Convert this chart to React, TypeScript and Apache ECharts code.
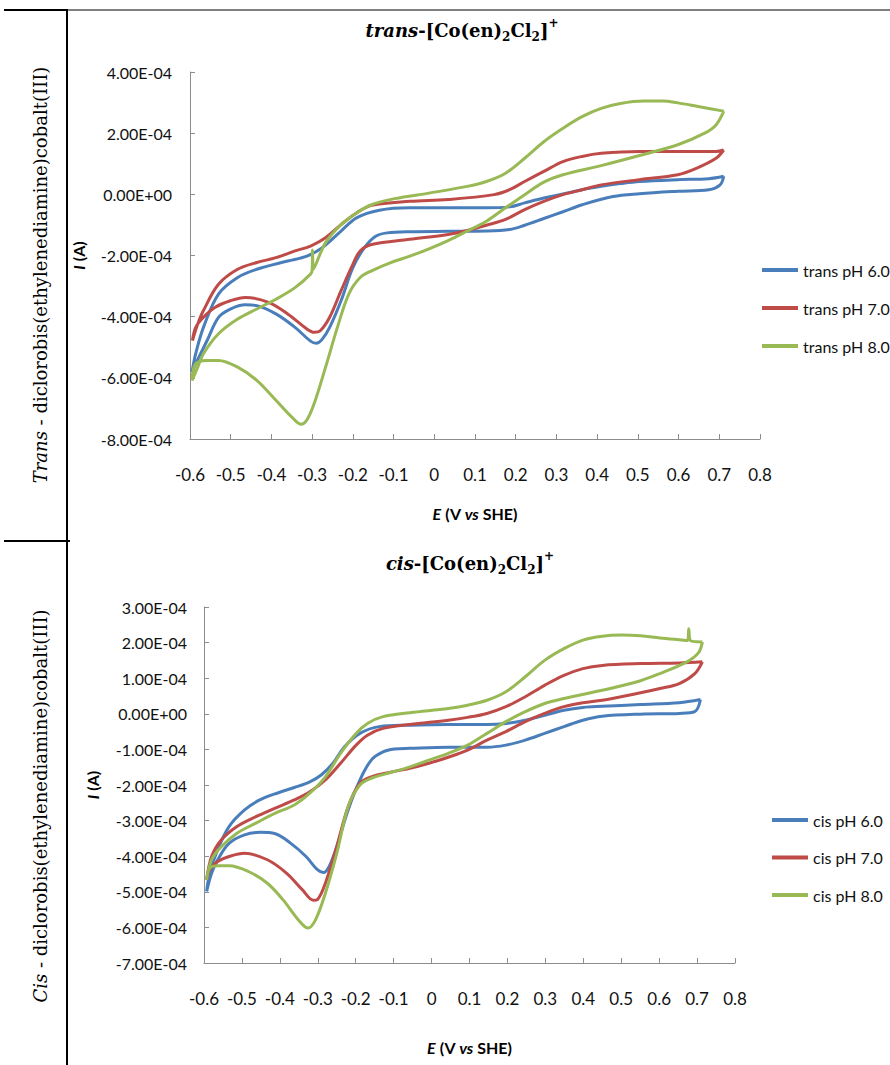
import React, { useEffect, useRef } from 'react';
import * as echarts from 'echarts';

// ---- Axis ranges / tick labels ----
const potentialMin = -0.6;
const potentialMax = 0.8;
const potentialStep = 0.1;
const transCurrentMin = -8e-4;
const transCurrentMax = 4e-4;
const transCurrentStep = 2e-4;
const cisCurrentMin = -7e-4;
const cisCurrentMax = 3e-4;
const cisCurrentStep = 1e-4;

// ---- Legends ----
const transNames = ['trans pH 6.0', 'trans pH 7.0', 'trans pH 8.0'];
const cisNames = ['cis pH 6.0', 'cis pH 7.0', 'cis pH 8.0'];
const seriesColors = ['#4A7EBB', '#BE4B48', '#98B954'];

// ---- Data: [E (V vs SHE), I (A)] around each voltammogram loop ----
const transPH6: number[][] = [
  [0.711, 0.59e-4], [0.702, 0.31e-4], [0.674, 0.15e-4], [0.598, 0.10e-4], [0.504, 0.02e-4], [0.439, -0.07e-4],
  [0.363, -0.34e-4], [0.316, -0.57e-4], [0.269, -0.79e-4], [0.222, -1.01e-4], [0.185, -1.15e-4], [0.128, -1.20e-4],
  [0.034, -1.21e-4], [-0.060, -1.22e-4], [-0.116, -1.26e-4], [-0.144, -1.37e-4], [-0.172, -1.75e-4], [-0.200, -2.40e-4],
  [-0.229, -3.48e-4], [-0.257, -4.35e-4], [-0.276, -4.75e-4], [-0.290, -4.87e-4], [-0.304, -4.80e-4], [-0.342, -4.35e-4],
  [-0.389, -3.91e-4], [-0.436, -3.64e-4], [-0.464, -3.61e-4], [-0.501, -3.75e-4], [-0.530, -4.02e-4], [-0.558, -4.78e-4],
  [-0.586, -5.54e-4], [-0.595, -5.81e-4],
  [-0.586, -5.21e-4], [-0.567, -4.35e-4], [-0.530, -3.26e-4], [-0.483, -2.72e-4], [-0.436, -2.45e-4], [-0.360, -2.18e-4],
  [-0.313, -2.02e-4], [-0.276, -1.75e-4], [-0.229, -1.20e-4], [-0.191, -0.77e-4], [-0.135, -0.52e-4], [-0.060, -0.44e-4],
  [0.034, -0.44e-4], [0.128, -0.44e-4], [0.185, -0.41e-4], [0.222, -0.28e-4], [0.269, -0.12e-4], [0.316, 0.01e-4],
  [0.363, 0.15e-4], [0.410, 0.26e-4], [0.457, 0.35e-4], [0.504, 0.42e-4], [0.598, 0.48e-4], [0.674, 0.51e-4], [0.711, 0.59e-4],
];

const transPH7: number[][] = [
  [0.711, 1.45e-4], [0.692, 1.18e-4], [0.645, 0.86e-4], [0.598, 0.64e-4], [0.504, 0.48e-4], [0.410, 0.31e-4],
  [0.363, 0.15e-4], [0.316, -0.01e-4], [0.269, -0.23e-4], [0.222, -0.50e-4], [0.175, -0.82e-4], [0.128, -1.01e-4],
  [0.081, -1.18e-4], [0.034, -1.31e-4], [-0.060, -1.47e-4], [-0.154, -1.64e-4], [-0.182, -1.85e-4], [-0.200, -2.29e-4],
  [-0.229, -3.15e-4], [-0.257, -4.02e-4], [-0.280, -4.46e-4], [-0.295, -4.51e-4], [-0.313, -4.40e-4], [-0.360, -3.91e-4],
  [-0.407, -3.53e-4], [-0.464, -3.37e-4], [-0.501, -3.48e-4], [-0.539, -3.70e-4], [-0.567, -4.02e-4], [-0.586, -4.35e-4],
  [-0.594, -4.78e-4],
  [-0.581, -4.24e-4], [-0.567, -3.80e-4], [-0.530, -2.94e-4], [-0.483, -2.45e-4], [-0.436, -2.23e-4], [-0.389, -2.07e-4],
  [-0.342, -1.85e-4], [-0.304, -1.69e-4], [-0.267, -1.42e-4], [-0.229, -0.99e-4], [-0.191, -0.61e-4], [-0.154, -0.36e-4],
  [-0.060, -0.23e-4], [0.034, -0.17e-4], [0.147, -0.01e-4], [0.185, 0.15e-4], [0.222, 0.42e-4], [0.269, 0.75e-4],
  [0.316, 1.07e-4], [0.363, 1.24e-4], [0.410, 1.34e-4], [0.504, 1.40e-4], [0.598, 1.40e-4], [0.692, 1.40e-4], [0.711, 1.45e-4],
];

const transPH8: number[][] = [
  [0.711, 2.72e-4], [0.692, 2.27e-4], [0.664, 2.00e-4], [0.598, 1.62e-4], [0.504, 1.27e-4], [0.410, 0.94e-4],
  [0.316, 0.64e-4], [0.269, 0.40e-4], [0.222, -0.01e-4], [0.175, -0.44e-4], [0.128, -0.88e-4], [0.081, -1.20e-4],
  [0.034, -1.51e-4], [-0.013, -1.78e-4], [-0.060, -2.02e-4], [-0.107, -2.23e-4], [-0.154, -2.50e-4], [-0.182, -2.72e-4],
  [-0.210, -3.26e-4], [-0.238, -4.35e-4], [-0.267, -5.65e-4], [-0.295, -6.84e-4], [-0.313, -7.38e-4], [-0.327, -7.52e-4],
  [-0.351, -7.27e-4], [-0.389, -6.73e-4], [-0.436, -6.08e-4], [-0.483, -5.65e-4], [-0.530, -5.43e-4], [-0.558, -5.43e-4],
  [-0.586, -5.54e-4], [-0.595, -6.08e-4],
  [-0.581, -5.65e-4], [-0.567, -5.21e-4], [-0.530, -4.56e-4], [-0.483, -4.08e-4], [-0.436, -3.75e-4], [-0.389, -3.43e-4],
  [-0.342, -3.05e-4], [-0.304, -2.61e-4], [-0.300, -2.48e-4], [-0.299, -1.82e-4], [-0.297, -2.45e-4], [-0.267, -1.58e-4],
  [-0.229, -0.99e-4], [-0.191, -0.61e-4], [-0.154, -0.34e-4], [-0.097, -0.14e-4], [-0.013, 0.04e-4], [0.081, 0.26e-4],
  [0.128, 0.42e-4], [0.175, 0.69e-4], [0.222, 1.18e-4], [0.269, 1.72e-4], [0.316, 2.16e-4], [0.363, 2.54e-4],
  [0.410, 2.81e-4], [0.457, 2.97e-4], [0.514, 3.05e-4], [0.561, 3.05e-4], [0.598, 2.99e-4], [0.645, 2.88e-4], [0.711, 2.72e-4],
];

const cisPH6: number[][] = [
  [0.709, 0.40e-4], [0.694, 0.06e-4], [0.653, 0.01e-4], [0.551, -0.01e-4], [0.450, -0.07e-4], [0.399, -0.18e-4],
  [0.349, -0.36e-4], [0.298, -0.55e-4], [0.247, -0.74e-4], [0.196, -0.88e-4], [0.146, -0.94e-4], [0.044, -0.94e-4],
  [-0.057, -0.97e-4], [-0.098, -0.99e-4], [-0.128, -1.07e-4], [-0.159, -1.30e-4], [-0.189, -1.86e-4], [-0.220, -2.70e-4],
  [-0.250, -3.73e-4], [-0.270, -4.29e-4], [-0.285, -4.46e-4], [-0.301, -4.38e-4], [-0.331, -4.01e-4], [-0.371, -3.64e-4],
  [-0.412, -3.37e-4], [-0.453, -3.33e-4], [-0.493, -3.40e-4], [-0.534, -3.64e-4], [-0.564, -4.10e-4], [-0.580, -4.48e-4],
  [-0.593, -4.99e-4],
  [-0.585, -4.48e-4], [-0.564, -3.82e-4], [-0.534, -3.17e-4], [-0.493, -2.70e-4], [-0.453, -2.42e-4], [-0.402, -2.21e-4],
  [-0.362, -2.07e-4], [-0.321, -1.91e-4], [-0.291, -1.72e-4], [-0.260, -1.39e-4], [-0.230, -0.93e-4], [-0.189, -0.55e-4],
  [-0.138, -0.36e-4], [-0.057, -0.32e-4], [0.044, -0.30e-4], [0.146, -0.30e-4], [0.196, -0.27e-4], [0.247, -0.18e-4],
  [0.298, -0.04e-4], [0.349, 0.10e-4], [0.399, 0.18e-4], [0.450, 0.21e-4], [0.551, 0.26e-4], [0.653, 0.31e-4], [0.709, 0.40e-4],
];

const cisPH7: number[][] = [
  [0.714, 1.46e-4], [0.694, 1.13e-4], [0.653, 0.85e-4], [0.602, 0.71e-4], [0.551, 0.59e-4], [0.450, 0.38e-4],
  [0.399, 0.31e-4], [0.349, 0.20e-4], [0.298, 0.01e-4], [0.247, -0.22e-4], [0.196, -0.50e-4], [0.146, -0.74e-4],
  [0.095, -1.02e-4], [0.044, -1.22e-4], [-0.007, -1.39e-4], [-0.057, -1.53e-4], [-0.108, -1.64e-4], [-0.159, -1.77e-4],
  [-0.189, -1.95e-4], [-0.220, -2.61e-4], [-0.250, -3.73e-4], [-0.280, -4.76e-4], [-0.301, -5.22e-4], [-0.311, -5.24e-4],
  [-0.341, -4.94e-4], [-0.382, -4.48e-4], [-0.433, -4.10e-4], [-0.493, -3.92e-4], [-0.534, -4.01e-4], [-0.564, -4.15e-4],
  [-0.585, -4.38e-4], [-0.593, -4.66e-4],
  [-0.580, -4.01e-4], [-0.554, -3.54e-4], [-0.514, -3.17e-4], [-0.463, -2.89e-4], [-0.412, -2.65e-4], [-0.362, -2.42e-4],
  [-0.321, -2.19e-4], [-0.280, -1.86e-4], [-0.240, -1.39e-4], [-0.199, -0.88e-4], [-0.169, -0.60e-4], [-0.128, -0.41e-4],
  [-0.057, -0.30e-4], [0.044, -0.18e-4], [0.095, -0.10e-4], [0.146, 0.01e-4], [0.196, 0.20e-4], [0.247, 0.48e-4],
  [0.298, 0.80e-4], [0.349, 1.08e-4], [0.399, 1.27e-4], [0.450, 1.36e-4], [0.551, 1.41e-4], [0.653, 1.43e-4], [0.714, 1.46e-4],
];

const cisPH8: number[][] = [
  [0.714, 2.02e-4], [0.704, 1.72e-4], [0.673, 1.46e-4], [0.602, 1.13e-4], [0.551, 0.93e-4], [0.450, 0.66e-4],
  [0.349, 0.43e-4], [0.298, 0.29e-4], [0.247, 0.06e-4], [0.196, -0.22e-4], [0.146, -0.55e-4], [0.095, -0.88e-4],
  [0.044, -1.11e-4], [-0.007, -1.30e-4], [-0.057, -1.49e-4], [-0.108, -1.65e-4], [-0.159, -1.81e-4], [-0.189, -2.00e-4],
  [-0.220, -2.61e-4], [-0.250, -3.92e-4], [-0.280, -5.04e-4], [-0.306, -5.79e-4], [-0.326, -6.02e-4], [-0.351, -5.79e-4],
  [-0.392, -5.22e-4], [-0.433, -4.76e-4], [-0.483, -4.43e-4], [-0.534, -4.27e-4], [-0.564, -4.27e-4], [-0.585, -4.34e-4],
  [-0.593, -4.66e-4],
  [-0.580, -4.10e-4], [-0.554, -3.73e-4], [-0.514, -3.36e-4], [-0.463, -3.07e-4], [-0.412, -2.79e-4], [-0.362, -2.56e-4],
  [-0.321, -2.23e-4], [-0.280, -1.77e-4], [-0.240, -1.11e-4], [-0.199, -0.55e-4], [-0.169, -0.27e-4], [-0.128, -0.08e-4],
  [-0.057, 0.03e-4], [0.044, 0.15e-4], [0.095, 0.24e-4], [0.146, 0.38e-4], [0.196, 0.62e-4], [0.247, 1.04e-4],
  [0.298, 1.50e-4], [0.349, 1.83e-4], [0.399, 2.07e-4], [0.450, 2.18e-4], [0.501, 2.21e-4], [0.551, 2.19e-4],
  [0.602, 2.13e-4], [0.653, 2.08e-4], [0.675, 2.06e-4], [0.678, 2.39e-4], [0.683, 2.05e-4], [0.714, 2.02e-4],
];

const transData = [transPH6, transPH7, transPH8];
const cisData = [cisPH6, cisPH7, cisPH8];

function sci(v: number): string {
  if (Math.abs(v) < 1e-12) return '0.00E+00';
  const [m, e] = v.toExponential(2).split('e');
  const n = parseInt(e, 10);
  return m + 'E' + (n < 0 ? '-' : '+') + String(Math.abs(n)).padStart(2, '0');
}

const SANS = 'Lato';
const SERIF = 'DejaVu Serif';
const AXIS_GRAY = '#8C8C8C';

function makeXAxis(gridIndex: number, nameGap: number) {
  return {
    type: 'value',
    gridIndex,
    min: potentialMin,
    max: potentialMax,
    interval: potentialStep,
    axisLine: { show: true, onZero: false, lineStyle: { color: AXIS_GRAY, width: 1 } },
    axisTick: { show: true, inside: true, length: 5, lineStyle: { color: AXIS_GRAY } },
    splitLine: { show: false },
    axisLabel: {
      margin: 27,
      fontFamily: SANS,
      fontSize: 17,
      color: '#111',
      formatter: (v: number) => String(Math.round(v * 10) / 10),
    },
    name: '{i|E}{b| (V }{i|vs}{b| SHE)}',
    nameLocation: 'middle',
    nameGap,
    nameTextStyle: {
      fontFamily: SANS,
      fontSize: 16,
      fontWeight: 'bold',
      color: '#000',
      rich: {
        i: { fontFamily: SANS, fontSize: 16, fontWeight: 'bold', fontStyle: 'italic', color: '#000' },
        b: { fontFamily: SANS, fontSize: 16, fontWeight: 'bold', color: '#000' },
      },
    },
  };
}

function makeYAxis(gridIndex: number, min: number, max: number, interval: number, nameGap: number, labelMargin: number) {
  return {
    type: 'value',
    gridIndex,
    min,
    max,
    interval,
    axisLine: { show: true, onZero: false, lineStyle: { color: AXIS_GRAY, width: 1 } },
    axisTick: { show: true, inside: true, length: 5, lineStyle: { color: AXIS_GRAY } },
    splitLine: { show: false },
    axisLabel: {
      margin: labelMargin,
      fontFamily: SANS,
      fontSize: 16,
      color: '#111',
      formatter: (v: number) => sci(v),
    },
    name: '{i|I}{b| (A)}',
    nameLocation: 'middle',
    nameRotate: 90,
    nameGap,
    nameTextStyle: {
      fontFamily: SANS,
      fontSize: 16,
      fontWeight: 'bold',
      color: '#000',
      rich: {
        i: { fontFamily: SANS, fontSize: 16, fontWeight: 'bold', fontStyle: 'italic', color: '#000' },
        b: { fontFamily: SANS, fontSize: 16, fontWeight: 'bold', color: '#000' },
      },
    },
  };
}

function makeLegend(names: string[], left: number, top: number, gap: number) {
  return {
    data: names,
    orient: 'vertical',
    left,
    top,
    padding: 0,
    itemGap: gap,
    itemWidth: 36,
    itemHeight: 4,
    icon: 'rect',
    textStyle: { fontFamily: SANS, fontSize: 16, color: '#111' },
  };
}

const titleRich = {
  bi: { fontFamily: SERIF, fontSize: 18, fontWeight: 'bold', fontStyle: 'italic', lineHeight: 26, color: '#000' },
  n: { fontFamily: SERIF, fontSize: 18, fontWeight: 'bold', lineHeight: 26, color: '#000' },
  s: { fontFamily: SERIF, fontSize: 12, fontWeight: 'bold', verticalAlign: 'bottom', lineHeight: 14, color: '#000' },
  p: { fontFamily: SERIF, fontSize: 12, fontWeight: 'bold', verticalAlign: 'top', lineHeight: 14, color: '#000' },
};

const sideRich = {
  i: { fontFamily: SERIF, fontSize: 18, fontStyle: 'italic', color: '#000' },
  r: { fontFamily: SERIF, fontSize: 18, color: '#000' },
};

export default function App() {
  const ref = useRef<HTMLDivElement>(null);

  useEffect(() => {
    if (!ref.current) return;
    const chart = echarts.init(ref.current, undefined, { renderer: 'svg' });

    const series: any[] = [];
    transData.forEach((d, i) => {
      series.push({
        name: transNames[i],
        type: 'line',
        xAxisIndex: 0,
        yAxisIndex: 0,
        data: d,
        smooth: 0.35,
        symbol: 'none',
        lineStyle: { width: 3, color: seriesColors[i] },
        itemStyle: { color: seriesColors[i] },
      });
    });
    cisData.forEach((d, i) => {
      series.push({
        name: cisNames[i],
        type: 'line',
        xAxisIndex: 1,
        yAxisIndex: 1,
        data: d,
        smooth: 0.35,
        symbol: 'none',
        lineStyle: { width: 3, color: seriesColors[i] },
        itemStyle: { color: seriesColors[i] },
      });
    });

    const option: any = {
      animation: false,
      backgroundColor: '#ffffff',
      grid: [
        { left: 190, top: 72, width: 570, height: 367 },
        { left: 204, top: 607, width: 531, height: 356 },
      ],
      xAxis: [makeXAxis(0, 66), makeXAxis(1, 76)],
      yAxis: [
        makeYAxis(0, transCurrentMin, transCurrentMax, transCurrentStep, 104, 18),
        makeYAxis(1, cisCurrentMin, cisCurrentMax, cisCurrentStep, 104, 17),
      ],
      legend: [makeLegend(transNames, 762, 262, 22), makeLegend(cisNames, 772, 812, 21.5)],
      series,
      graphic: [
        { type: 'line', shape: { x1: 4, y1: 10, x2: 67, y2: 10 }, style: { stroke: '#000', lineWidth: 2 } },
        { type: 'line', shape: { x1: 67, y1: 10, x2: 890, y2: 10 }, style: { stroke: '#000', lineWidth: 1 } },
        { type: 'line', shape: { x1: 67, y1: 9, x2: 67, y2: 1065 }, style: { stroke: '#000', lineWidth: 2 } },
        { type: 'line', shape: { x1: 4, y1: 541, x2: 70, y2: 541 }, style: { stroke: '#000', lineWidth: 2 } },
        {
          type: 'text',
          x: 462,
          y: 30,
          style: {
            text: '{bi|trans}{n|-[Co(en)}{s|2}{n|Cl}{s|2}{n|]}{p|+}',
            align: 'center',
            verticalAlign: 'middle',
            fontFamily: SERIF,
            fontSize: 18,
            fontWeight: 'bold',
            fill: '#000',
            rich: titleRich,
          },
        },
        {
          type: 'text',
          x: 470,
          y: 563,
          style: {
            text: '{bi|cis}{n|-[Co(en)}{s|2}{n|Cl}{s|2}{n|]}{p|+}',
            align: 'center',
            verticalAlign: 'middle',
            fontFamily: SERIF,
            fontSize: 18,
            fontWeight: 'bold',
            fill: '#000',
            rich: titleRich,
          },
        },
        {
          type: 'text',
          x: 40,
          y: 275,
          rotation: Math.PI / 2,
          style: {
            text: '{i|Trans}{r| - diclorobis(ethylenediamine)cobalt(III)}',
            align: 'center',
            verticalAlign: 'middle',
            fontFamily: SERIF,
            fontSize: 18,
            fill: '#000',
            rich: sideRich,
          },
        },
        {
          type: 'text',
          x: 40,
          y: 806,
          rotation: Math.PI / 2,
          style: {
            text: '{i|Cis}{r| - diclorobis(ethylenediamine)cobalt(III)}',
            align: 'center',
            verticalAlign: 'middle',
            fontFamily: SERIF,
            fontSize: 18,
            fill: '#000',
            rich: sideRich,
          },
        },
      ],
    };

    chart.setOption(option);
    return () => chart.dispose();
  }, []);

  return (
    <div
      ref={ref}
      style={{ position: 'absolute', left: 0, top: 0, width: 890, height: 1065, background: '#fff' }}
    />
  );
}
